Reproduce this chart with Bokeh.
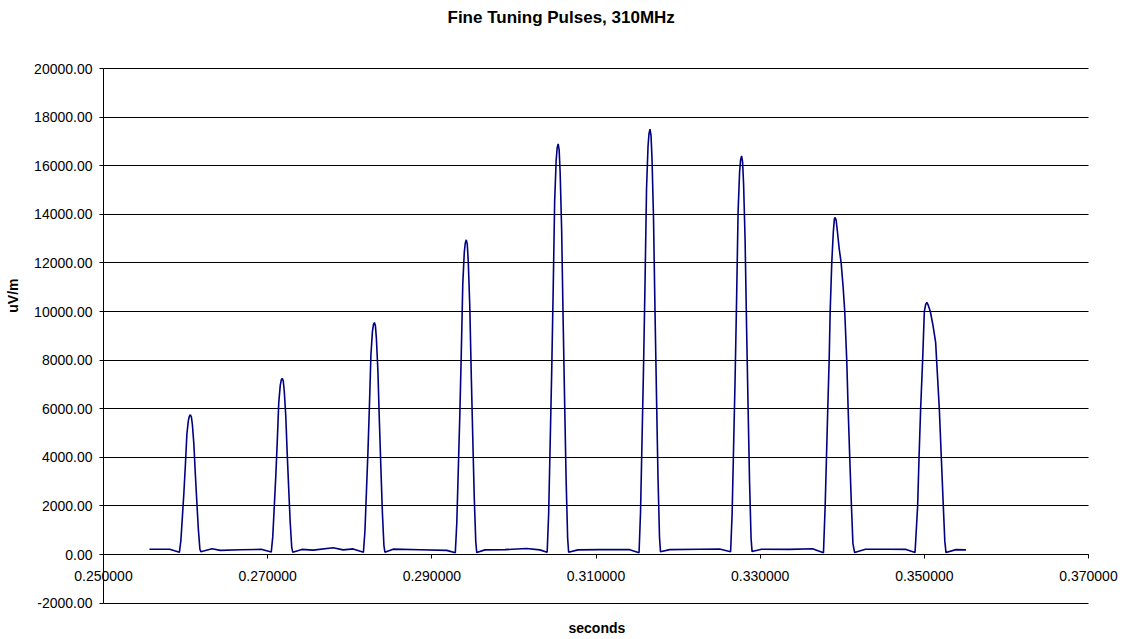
from bokeh.plotting import figure
from bokeh.models import FixedTicker, NumeralTickFormatter, Range1d, Title
from bokeh.embed import file_html
from bokeh.resources import INLINE

title_text = "Fine Tuning Pulses, 310MHz"
x_label = "seconds"
y_label = "uV/m"
x_ticks = [0.25, 0.27, 0.29, 0.31, 0.33, 0.35, 0.37]
y_ticks = [-2000, 0, 2000, 4000, 6000, 8000, 10000, 12000, 14000, 16000, 18000, 20000]

seconds = [
    0.255596, 0.258066,
    # pulse 1
    0.259246, 0.259428, 0.259611, 0.259793, 0.259976, 0.260158, 0.260341, 0.260462, 0.260584,
    0.260706, 0.260827, 0.261010, 0.261192, 0.261375, 0.261557, 0.261740, 0.261861,
    0.263224, 0.264234, 0.266667, 0.269307,
    # pulse 2
    0.270438, 0.270620, 0.270803, 0.270985, 0.271168, 0.271350, 0.271533, 0.271654, 0.271776,
    0.271898, 0.272019, 0.272202, 0.272384, 0.272567, 0.272749, 0.272932, 0.273053,
    0.274173, 0.275547, 0.277981, 0.279197, 0.280414,
    # pulse 3
    0.281667, 0.281849, 0.282032, 0.282214, 0.282397, 0.282579, 0.282762, 0.282883, 0.283005,
    0.283127, 0.283248, 0.283431, 0.283613, 0.283796, 0.283978, 0.284161, 0.284282,
    0.285280, 0.288564, 0.291813,
    # pulse 4
    0.292859, 0.293041, 0.293224, 0.293406, 0.293589, 0.293771, 0.293954, 0.294075, 0.294197,
    0.294319, 0.294440, 0.294623, 0.294805, 0.294988, 0.295170, 0.295353, 0.295474,
    0.296472, 0.298905, 0.301545, 0.303163,
    # pulse 5
    0.304051, 0.304233, 0.304416, 0.304598, 0.304781, 0.304963, 0.305146, 0.305267, 0.305389,
    0.305511, 0.305632, 0.305815, 0.305997, 0.306180, 0.306362, 0.306545, 0.306666,
    0.307786, 0.310462, 0.314112,
    # pulse 6
    0.315244, 0.315426, 0.315609, 0.315791, 0.315974, 0.316156, 0.316339, 0.316460, 0.316582,
    0.316704, 0.316825, 0.317008, 0.317190, 0.317373, 0.317555, 0.317738, 0.317859,
    0.318978, 0.322628, 0.325061,
    # pulse 7
    0.326399, 0.326581, 0.326764, 0.326946, 0.327129, 0.327311, 0.327494, 0.327615, 0.327737,
    0.327859, 0.327980, 0.328163, 0.328345, 0.328528, 0.328710, 0.328893, 0.329014,
    0.330170, 0.333577, 0.336375,
    # pulse 8
    0.337713, 0.337919, 0.338078, 0.338236, 0.338406, 0.338528, 0.338722, 0.338917, 0.339039,
    0.339136, 0.339258, 0.339440, 0.339623, 0.339866, 0.340109, 0.340304, 0.340547, 0.340717,
    0.340912, 0.341119, 0.341301, 0.341508,
    0.342822, 0.345742, 0.347774,
    # pulse 9
    0.348869, 0.349185, 0.349355, 0.349550, 0.349793, 0.350000, 0.350158, 0.350304, 0.350486,
    0.350730, 0.351058, 0.351375, 0.351496, 0.351825, 0.352068, 0.352311, 0.352494, 0.352640,
    0.353856, 0.355073,
]

uv_per_m = [
    215, 215,
    # pulse 1
    90, 575, 1550, 2530, 3680, 4950, 5520, 5690, 5750,
    5660, 5350, 4540, 3280, 2130, 1035, 230, 110,
    235, 170, 195, 210,
    # pulse 2
    100, 725, 1960, 3190, 4640, 6240, 6960, 7180, 7250,
    7140, 6740, 5730, 4130, 2680, 1305, 290, 95,
    210, 180, 280, 190, 230,
    # pulse 3
    95, 955, 2580, 4200, 6110, 8210, 9170, 9450, 9550,
    9410, 8880, 7540, 5440, 3530, 1720, 380, 95,
    220, 195, 170,
    # pulse 4
    70, 1295, 3500, 5700, 8290, 11140, 12430, 12820, 12950,
    12760, 12040, 10230, 7380, 4790, 2330, 520, 80,
    190, 200, 245, 190,
    # pulse 5
    90, 1690, 4560, 7440, 10820, 14530, 16220, 16730, 16900,
    16650, 15720, 13350, 9630, 6250, 3040, 680, 90,
    190, 200, 200,
    # pulse 6
    70, 1750, 4730, 7700, 11200, 15050, 16800, 17330, 17500,
    17240, 16280, 13830, 9980, 6480, 3150, 700, 110,
    200, 215, 225,
    # pulse 7
    110, 1640, 4430, 7220, 10500, 14100, 15740, 16240, 16400,
    16150, 15250, 12960, 9350, 6070, 2950, 660, 120,
    215, 210, 235,
    # pulse 8
    70, 2000, 4000, 6000, 8000, 10000, 12000, 13300, 13800,
    13870, 13750, 13200, 12600, 12000, 11000, 10000, 8000, 6000,
    4000, 2000, 450, 80,
    215, 215, 210,
    # pulse 9
    80, 2000, 4000, 6000, 8000, 10000, 10280, 10380, 10250,
    10000, 9420, 8740, 8000, 6000, 4000, 2000, 550, 80,
    200, 190,
]

FONT = "Liberation Sans"

# ---- layout (pixels) ----
W, H = 1123, 639
BORDER_L, BORDER_R, BORDER_T, BORDER_B = 22, 2, 30, 24
# where the chart's own extent (0.25..0.37, -2000..20000) sits in the canvas
PLOT_L, PLOT_R, PLOT_T, PLOT_B = 103.0, 1088.0, 68.0, 602.6

X0, X1 = x_ticks[0], x_ticks[-1]
Y0, Y1 = y_ticks[0], y_ticks[-1]
fx = (X1 - X0) / (PLOT_R - PLOT_L)
fy = (Y1 - Y0) / (PLOT_B - PLOT_T)
frame_r = W - BORDER_R
frame_b = H - BORDER_B
x_range = Range1d(X0 - (PLOT_L - BORDER_L) * fx, X1 + (frame_r - PLOT_R) * fx)
y_range = Range1d(Y0 - (frame_b - PLOT_B) * fy, Y1 + (PLOT_T - BORDER_T) * fy)

p = figure(width=W, height=H, output_backend="svg", toolbar_location=None,
           x_range=x_range, y_range=y_range,
           min_border_left=BORDER_L, min_border_right=BORDER_R,
           min_border_top=BORDER_T, min_border_bottom=BORDER_B)
p.outline_line_color = None
p.background_fill_color = "white"
p.border_fill_color = "white"

p.line(seconds, uv_per_m, line_color="#000080", line_width=1.6)

# x axis crossing at 0
xa = p.xaxis[0]
xa.fixed_location = 0
xa.bounds = (X0, X1)
xa.ticker = FixedTicker(ticks=x_ticks)
xa.formatter = NumeralTickFormatter(format="0.000000")
xa.major_tick_out = 4
xa.major_tick_in = 0
xa.minor_tick_out = 0
xa.minor_tick_in = 0
xa.axis_line_color = "black"
xa.major_tick_line_color = "black"
xa.major_label_text_font = FONT
xa.major_label_text_font_size = "14px"
xa.major_label_text_color = "black"
xa.major_label_standoff = 12
p.xgrid.visible = False

# y axis at x = 0.25
ya = p.yaxis[0]
ya.fixed_location = X0
ya.bounds = (Y0, Y1)
ya.ticker = FixedTicker(ticks=y_ticks)
ya.formatter = NumeralTickFormatter(format="0.00")
ya.major_tick_out = 4
ya.major_tick_in = 0
ya.minor_tick_out = 0
ya.minor_tick_in = 0
ya.axis_line_color = "black"
ya.major_tick_line_color = "black"
ya.major_label_text_font = FONT
ya.major_label_text_font_size = "14px"
ya.major_label_text_color = "black"
ya.major_label_standoff = 7

p.ygrid.ticker = FixedTicker(ticks=y_ticks)
p.ygrid.bounds = (Y0, Y1)
p.ygrid.cross_bounds = (X0, X1)
p.ygrid.grid_line_color = "black"
p.ygrid.grid_line_width = 1

p.add_layout(Title(text=title_text, text_font=FONT, text_font_size="17px",
                   text_font_style="bold", text_color="black", align="left", offset=425,
                   standoff=8), "above")
p.add_layout(Title(text=x_label, text_font=FONT, text_font_size="14px",
                   text_font_style="bold", text_color="black", align="left", offset=546,
                   standoff=4), "below")
p.add_layout(Title(text=y_label, text_font=FONT, text_font_size="14px",
                   text_font_style="bold", text_color="black", align="right", offset=248,
                   standoff=4), "left")

open("out.html", "w").write(file_html(p, INLINE))
